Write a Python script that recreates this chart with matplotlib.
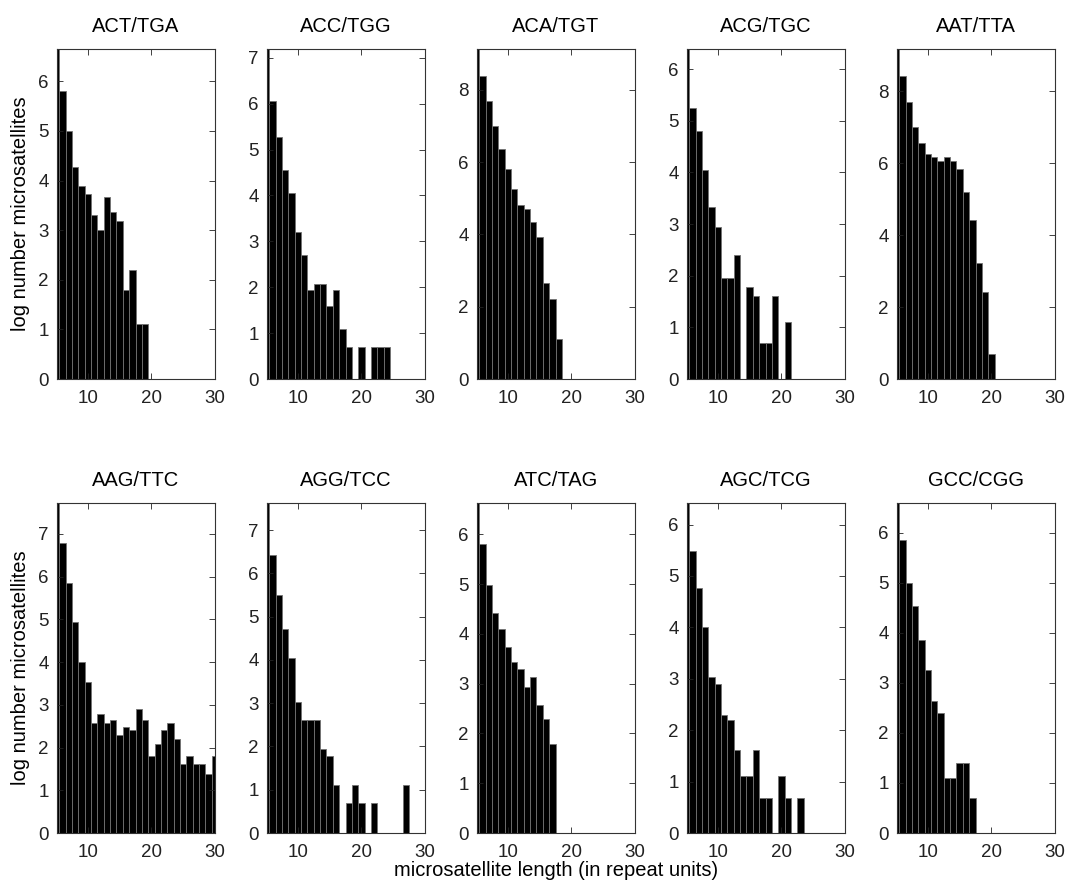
import matplotlib
matplotlib.use('Agg')
import matplotlib.pyplot as plt
import numpy as np

plt.rcParams['font.family'] = ['Liberation Sans', 'DejaVu Sans']

# repeat lengths start at 5 units, one bar per unit
first_len = 5

names = ['ACT/TGA', 'ACC/TGG', 'ACA/TGT', 'ACG/TGC', 'AAT/TTA',
         'AAG/TTC', 'AGG/TCC', 'ATC/TAG', 'AGC/TCG', 'GCC/CGG']

# log number of microsatellites for lengths 5, 6, 7, ...
act_tga = [6.65, 5.8, 4.99, 4.28, 3.88, 3.72, 3.3, 3.0, 3.67, 3.37, 3.18, 1.8, 2.2, 1.1, 1.1]
acc_tgg = [7.19, 6.06, 5.28, 4.56, 4.06, 3.21, 2.71, 1.95, 2.08, 2.08, 1.6, 1.95, 1.1, 0.69,
           0, 0.69, 0, 0.69, 0.69, 0.69]
aca_tgt = [9.13, 8.37, 7.7, 6.99, 6.36, 5.82, 5.25, 4.82, 4.71, 4.34, 3.93, 2.65, 2.2, 1.1]
acg_tgc = [6.39, 5.25, 4.81, 4.05, 3.33, 2.95, 1.95, 1.95, 2.4, 0, 1.79, 1.61, 0.69, 0.69,
           1.61, 0, 1.1]
aat_tta = [9.17, 8.42, 7.71, 7.0, 6.55, 6.26, 6.16, 6.07, 6.17, 6.07, 5.84, 5.21, 4.41,
           3.22, 2.41, 0.69]
aag_ttc = [7.72, 6.79, 5.84, 4.93, 4.0, 3.53, 2.57, 2.78, 2.57, 2.65, 2.3, 2.49, 2.41, 2.89,
           2.65, 1.79, 2.08, 2.4, 2.57, 2.2, 1.61, 1.79, 1.61, 1.61, 1.39, 1.79]
agg_tcc = [7.63, 6.42, 5.5, 4.72, 4.04, 3.03, 2.62, 2.62, 2.62, 1.94, 1.79, 1.1, 0, 0.69,
           1.1, 0.69, 0, 0.69, 0, 0, 0, 0, 1.1]
atc_tag = [6.63, 5.8, 4.99, 4.41, 4.09, 3.74, 3.44, 3.3, 2.94, 3.14, 2.57, 2.3, 1.79]
agc_tcg = [6.42, 5.49, 4.77, 4.01, 3.04, 2.89, 2.3, 2.2, 1.61, 1.1, 1.1, 1.61, 0.69, 0.69,
           0, 1.1, 0.69, 0, 0.69]
gcc_cgg = [6.59, 5.85, 5.0, 4.53, 3.85, 3.26, 2.64, 2.39, 1.1, 1.1, 1.39, 1.39, 0.69]

series = [act_tga, acc_tgg, aca_tgt, acg_tgc, aat_tta,
          aag_ttc, agg_tcc, atc_tag, agc_tcg, gcc_cgg]

W, H = 1068, 891
fig = plt.figure(figsize=(W / 100, H / 100), dpi=100)

lefts = [57, 267, 477, 687, 897]
aw = 158
rows = [(49, 379), (503, 833)]

axes = []
for i, (name, vals) in enumerate(zip(names, series)):
    r, c = divmod(i, 5)
    top, bot = rows[r]
    ax = fig.add_axes([lefts[c] / W, 1 - bot / H, aw / W, (bot - top) / H])
    x = np.arange(first_len, first_len + len(vals))
    ax.bar(x, vals, width=1.0, color='black', edgecolor='0.45', linewidth=0.6)
    ax.set_xlim(5.15, 30)
    ax.set_ylim(0, vals[0])
    ax.set_xticks([10, 20, 30])
    if vals[0] > 8:
        ax.set_yticks([0, 2, 4, 6, 8])
    else:
        ax.set_yticks(range(0, int(vals[0]) + 1))
    ax.tick_params(direction='in', top=True, right=True, length=4, width=0.6,
                   labelsize=13.5, colors='#222222')
    ax.tick_params(axis='x', pad=8)
    ax.tick_params(axis='y', pad=6)
    for s in ax.spines.values():
        s.set_linewidth(0.8)
        s.set_color('#333333')
    ax.set_title(name, fontsize=14.5, pad=12)
    axes.append(ax)

axes[0].set_ylabel('log number microsatellites', fontsize=14.5, labelpad=6)
axes[5].set_ylabel('log number microsatellites', fontsize=14.5, labelpad=6)
axes[7].set_xlabel('microsatellite length (in repeat units)', fontsize=14.5, labelpad=0)

fig.savefig('out.png', dpi=100)
